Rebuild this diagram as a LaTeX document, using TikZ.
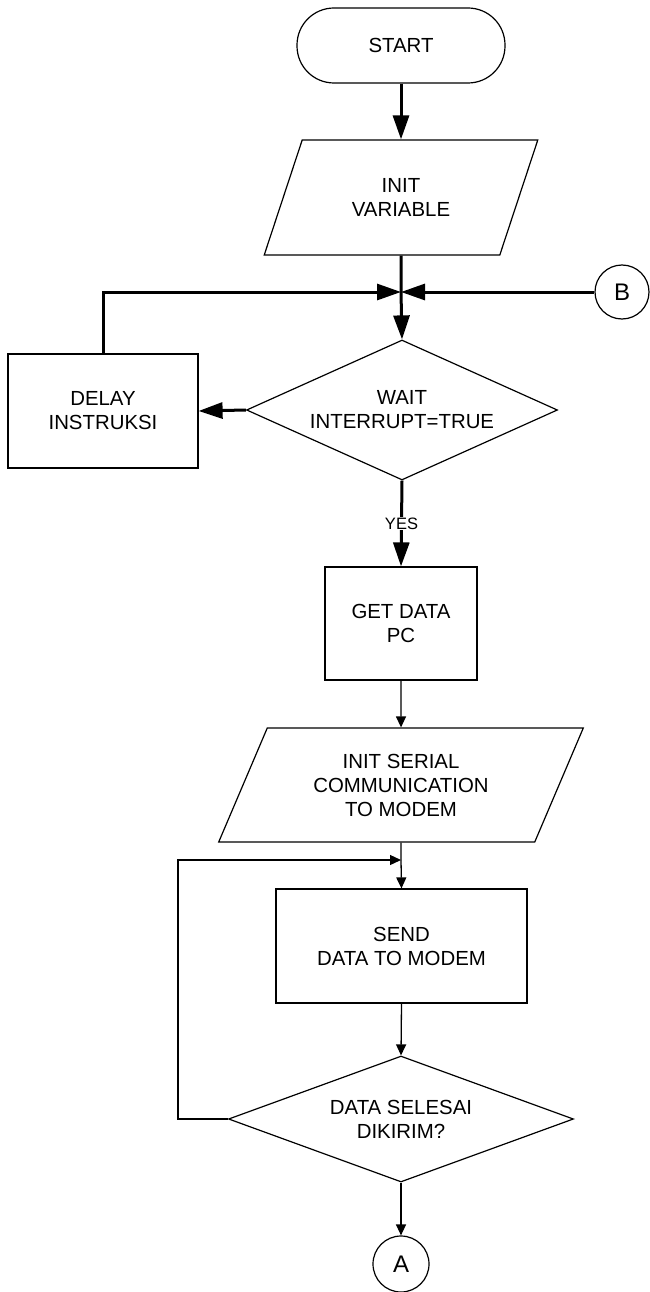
\documentclass[tikz,border=0pt]{standalone}
\usepackage{fontspec}
\setmainfont{Liberation Sans}
\usetikzlibrary{arrows.meta,shapes.geometric}

\tikzset{
  box/.style={draw, line width=1.2pt, inner sep=2pt, align=center,
    font=\fontsize{20.4}{24}\selectfont},
  procbox/.style={box, rectangle},
  iobox/.style={box, trapezium, trapezium stretches=true, inner sep=0pt},
  decbox/.style={box, diamond, inner sep=0pt},
  termbox/.style={box, rectangle, rounded corners=37pt,
    minimum width=208pt, minimum height=75pt},
  connbox/.style={draw, line width=1.2pt, circle, inner sep=0pt,
    font=\fontsize{24}{28}\selectfont},
  heavy/.style={line width=3pt, -{Triangle[length=24pt,width=16pt]}},
  heavyline/.style={line width=3pt},
  light/.style={line width=1.3pt, -{Triangle[length=11pt,width=10pt]}},
  lightline/.style={line width=1.3pt},
}

\begin{document}
\begin{tikzpicture}[x=1pt, y=-1pt]
\useasboundingbox (0,0) rectangle (650,1292);

% process steps
\node[termbox] (start) at (401,45.5) {START};
\node[iobox, trapezium left angle=63.6, trapezium right angle=116.4,
      minimum width=274pt, minimum height=115pt] (init) at (401,197.5) {INIT\\VARIABLE};
\coordinate (j1) at (401,292);
\node[connbox, minimum size=54pt] (B) at (622,292) {B};
\node[decbox, shape aspect=2.22, minimum width=311pt, minimum height=140pt]
      (wait) at (402,410) {WAIT\\INTERRUPT=TRUE};
\node[procbox, minimum width=190pt, minimum height=114pt] (delay) at (103,411) {DELAY\\INSTRUKSI};
\node[procbox, minimum width=152pt, minimum height=113pt] (get) at (401,623.5) {GET DATA\\PC};
\node[iobox, trapezium left angle=63, trapezium right angle=117,
      minimum width=365pt, minimum height=114pt] (ser) at (401,785) {INIT SERIAL\\COMMUNICATION\\TO MODEM};
\coordinate (j2) at (401,860);
\coordinate (lp) at (178,860);
\node[procbox, minimum width=251pt, minimum height=114pt] (send) at (401.5,946) {SEND\\DATA TO MODEM};
\node[decbox, shape aspect=2.74, minimum width=345pt, minimum height=126pt]
      (sel) at (401,1119) {DATA SELESAI\\DIKIRIM?};
\node[connbox, minimum size=56pt] (A) at (401,1264) {A};

% upper flow (heavy connectors)
\draw[heavy] (start) -- (init);
\draw[heavyline] (init.south) -- (j1);
\draw[heavy] (j1) -- (wait.north);
\draw[heavy] (delay.north) |- (j1);
\draw[heavy] (B.west) -- (j1);
\draw[heavy] (wait.west) -- (delay.east);
\draw[heavy] (wait.south) -- node[fill=white, inner sep=1pt,
      font=\fontsize{16.5}{18}\selectfont] {YES} (get.north);

% lower flow (light connectors)
\draw[light] (get.south) -- (ser.north);
\draw[lightline] (ser.south) -- (j2);
\draw[light] (j2) -- (send.north);
\draw[light] (sel.west) -| (lp) -- (j2);
\draw[light] (send.south) -- (sel.north);
\draw[light] (sel.south) -- (A.north);
\end{tikzpicture}
\end{document}
